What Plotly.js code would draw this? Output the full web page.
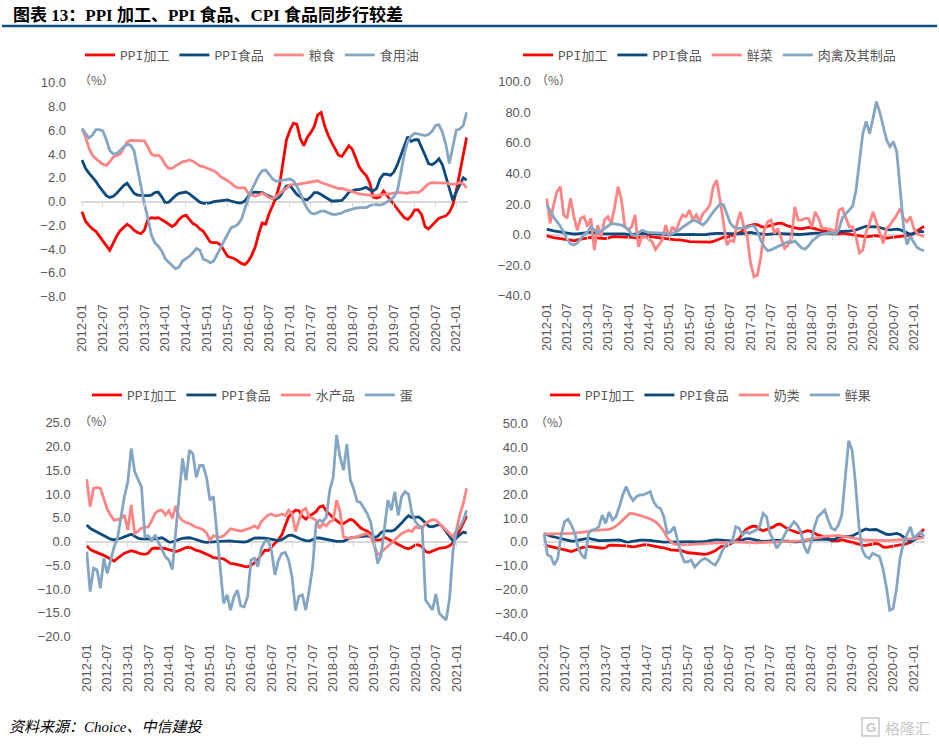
<!DOCTYPE html>
<html><head><meta charset="utf-8">
<script src="https://cdn.plot.ly/plotly-3.0.1.min.js"></script>
<style>html,body{margin:0;padding:0;background:#fff}#chart{width:939px;height:744px}</style>
</head><body><div id="chart"></div>
<script>
// ---- categories ----
const months = [];
for (let y = 2012; y <= 2021; y++) for (let m = 1; m <= 12; m++) { if (y === 2021 && m > 4) break; months.push(y + '-' + String(m).padStart(2, '0')); }
const tickLabels = ['2012-01','2012-07','2013-01','2013-07','2014-01','2014-07','2015-01','2015-07','2016-01','2016-07','2017-01','2017-07','2018-01','2018-07','2019-01','2019-07','2020-01','2020-07','2021-01'];

// ---- series (YoY, %) ----
const ppiProc = [
 -0.85,-1.65,-2.0,-2.3,-2.5,-2.9,-3.3,-3.7,-4.1,-3.5,-2.9,-2.45,
 -2.2,-1.9,-2.1,-2.4,-2.6,-2.7,-2.4,-1.5,-1.35,-1.4,-1.35,-1.5,
 -1.7,-1.9,-2.1,-1.9,-1.5,-1.25,-1.15,-1.5,-1.85,-2.0,-2.3,-2.5,
 -2.95,-3.4,-3.45,-3.45,-3.65,-4.1,-4.6,-4.7,-4.8,-5.0,-5.2,-5.3,
 -5.0,-4.5,-3.8,-2.7,-1.8,-1.9,-1.0,-0.35,0.4,1.4,3.4,5.2,
 6.0,6.6,6.5,5.3,4.7,5.4,5.8,6.3,7.3,7.5,6.4,5.6,
 5.0,4.4,3.9,3.8,4.2,4.7,4.4,3.6,2.9,2.5,2.2,1.6,
 0.4,0.3,0.4,0.9,0.5,0.1,-0.3,-0.6,-1.0,-1.35,-1.5,-1.2,
 -0.7,-0.7,-1.1,-2.1,-2.3,-2.0,-1.7,-1.4,-1.3,-1.2,-0.9,-0.3,
 0.9,2.4,4.0,5.4];
const ppiFood = [
 3.5,2.8,2.4,2.05,1.7,1.25,0.85,0.5,0.35,0.45,0.7,1.0,
 1.35,1.55,1.15,0.7,0.55,0.5,0.5,0.5,0.55,0.75,0.8,0.4,
 -0.1,-0.05,0.25,0.5,0.7,0.75,0.8,0.65,0.4,0.15,-0.05,-0.15,
 -0.15,-0.1,0.0,0.05,0.1,0.15,0.15,0.05,-0.05,-0.1,-0.1,0.05,
 0.45,0.75,0.8,0.8,0.75,0.6,0.45,0.3,0.2,0.4,0.85,1.3,
 1.35,1.0,0.6,0.4,0.2,0.15,0.4,0.75,0.75,0.6,0.4,0.2,
 0.05,0.05,0.05,0.1,0.4,0.8,0.9,1.0,1.0,1.1,1.2,1.0,
 0.9,1.1,1.9,2.3,2.3,2.2,2.5,3.1,3.9,4.75,5.45,5.05,
 5.2,5.2,4.6,3.9,3.2,3.1,3.3,3.6,3.1,2.1,0.9,0.1,
 0.8,1.4,2.0,1.8];
const grain = [
 6.15,5.45,4.5,3.9,3.6,3.35,3.15,3.05,3.35,3.75,3.85,4.0,
 4.5,5.0,5.15,5.15,5.15,5.15,5.1,4.6,4.0,3.85,3.9,3.65,
 3.1,2.8,2.8,3.0,3.2,3.35,3.4,3.5,3.4,3.2,3.0,2.95,
 2.8,2.7,2.6,2.4,2.1,1.95,1.75,1.55,1.3,1.15,1.15,1.15,
 0.7,0.55,0.45,0.55,0.7,0.55,0.35,0.25,0.4,0.7,0.9,1.1,
 1.4,1.4,1.45,1.5,1.55,1.6,1.7,1.7,1.75,1.6,1.5,1.4,
 1.25,1.15,1.1,1.1,1.0,0.9,0.8,0.7,0.65,0.6,0.55,0.55,
 0.5,0.5,0.55,0.55,0.6,0.65,0.7,0.75,0.75,0.7,0.7,0.8,
 0.75,0.75,0.95,1.25,1.5,1.6,1.6,1.6,1.55,1.55,1.5,1.45,
 1.5,1.6,1.5,1.15];
const oil = [
 6.15,5.7,5.35,5.6,6.05,6.05,5.95,5.2,4.3,4.0,4.05,4.3,
 4.6,4.8,4.75,4.3,2.7,1.3,-0.2,-1.4,-2.8,-3.45,-3.75,-4.15,
 -4.8,-5.1,-5.4,-5.65,-5.5,-5.0,-4.8,-4.6,-4.3,-3.95,-4.1,-4.85,
 -4.95,-5.15,-5.0,-4.5,-3.9,-3.3,-2.7,-2.2,-2.1,-1.9,-1.5,-0.5,
 0.3,1.0,1.6,2.2,2.6,2.65,2.3,1.9,1.7,1.75,1.8,1.9,
 1.9,1.75,1.3,0.7,-0.05,-0.6,-0.95,-1.05,-0.95,-0.8,-0.8,-0.95,
 -1.05,-1.1,-1.05,-0.95,-0.8,-0.7,-0.6,-0.55,-0.5,-0.5,-0.5,-0.35,
 -0.25,-0.25,-0.3,-0.2,-0.05,0.15,0.4,0.9,2.4,4.0,5.1,5.5,
 5.75,5.7,5.65,5.55,5.65,5.9,6.4,6.45,5.85,4.8,3.2,4.5,
 6.0,6.1,6.4,7.5];
const veg = [
 23.7,7.3,19.3,28,31.3,12.8,10.6,23.7,11.7,2.9,10.6,11.7,
 5.1,10.6,-10.1,6.2,-1.4,9.5,11.7,7.3,18.2,31.3,22.6,5.1,
 3.0,5.0,12.8,-8.0,-1.4,-1.4,-3.0,-4.7,-9.7,-6.9,-3.6,6.2,
 -1.4,5.1,1.8,8.4,12.8,11.7,16.0,9.5,12.8,8.4,13.9,16.0,
 19.3,31.3,35.6,22.6,7.3,-6.9,-3.6,-4.7,7.3,14.9,5.1,-1.4,
 -18.9,-27.6,-26.5,-14.5,2.9,8.4,9.5,0.8,4.0,-2.0,-9.1,-6.9,
 -2.5,18.2,9.5,9.5,10.6,10.6,4.7,14.9,10.6,4.0,4.0,3.5,
 3.0,1.9,16.0,17.1,10.6,5.1,5.1,-1.4,-11.9,-10.1,1.9,7.3,
 14.9,8.4,1.9,-5.8,4.0,6.2,9.5,12.8,17.1,10.6,8.4,11.7,
 4.0,0.8,-0.5,-1.4];
const meat = [
 19.5,15.0,11.5,8.5,5.5,1.5,-3.0,-6.0,-6.8,-5.5,-3.0,0.0,
 1.5,5.0,3.0,1.3,2.3,4.0,5.6,7.2,7.0,6.6,6.2,5.0,
 3.5,0.0,-0.8,1.0,2.8,2.0,1.3,1.2,1.2,1.2,1.0,0.7,
 0.0,0.5,1.7,3.0,4.8,6.5,8.0,9.3,8.8,7.5,6.2,8.5,
 11.8,14.8,17.5,20.0,19.5,14.0,7.5,5.0,4.0,4.0,4.2,4.7,
 5.5,5.8,1.9,-3.8,-8.0,-10.5,-10.0,-9.0,-8.0,-6.8,-5.5,-4.7,
 -5.2,-4.2,-6.5,-8.8,-9.5,-7.5,-4.5,-2.5,-0.8,0.3,1.0,1.2,
 1.0,0.0,3.5,11.0,13.5,16.0,18.5,29.0,48.5,66.0,74.0,66.0,
 76.0,87.0,80.0,70.0,62.0,57.5,60.8,54.0,30.0,5.0,-6.5,-1.0,
 -5.0,-8.5,-9.8,-10.6];
const aquatic = [
 13.1,7.3,11.2,11.4,11.2,8.8,6.8,5.5,4.5,4.6,4.9,5.6,
 2.4,7.7,1.7,2.2,2.8,3.0,3.1,4.4,6.0,6.5,6.6,5.6,
 6.5,4.9,7.5,5.2,4.4,4.0,3.8,3.4,3.0,2.8,2.5,1.8,
 0.3,1.2,1.0,0.9,1.2,2.0,2.7,2.5,2.3,2.2,2.4,2.6,
 2.9,3.3,2.8,4.2,5.0,5.6,5.8,5.4,5.5,5.8,5.5,6.6,
 5.9,2.1,4.5,6.5,7.0,5.2,4.9,4.5,2.8,3.8,3.3,4.2,
 4.5,8.7,6.3,1.0,0.8,0.7,0.9,1.0,1.3,1.5,1.7,1.0,
 -1.0,-2.8,-2.3,-1.6,-1.1,-0.4,0.3,1.0,1.7,2.0,2.4,2.1,
 3.1,2.9,2.8,3.8,4.3,4.6,4.5,3.8,3.1,2.4,1.7,1.0,
 2.4,5.6,8.0,11.2];
const egg = [
 -2.1,-10.5,-5.6,-5.9,-9.8,-3.5,-6.7,-3.9,-1.1,0.7,5.5,9.5,
 12.5,19.6,14.7,12.9,11.5,1.0,1.2,0.3,1.4,-0.2,-1.8,-3.2,
 -3.9,-5.9,2.0,10.0,17.5,12.9,19.2,18.5,13.5,16.0,16.0,13.5,
 8.7,9.5,2.5,-5.3,-13.0,-11.2,-14.4,-11.6,-10.2,-13.5,-13.7,-11.6,
 -3.9,-3.5,-5.3,-1.4,0.0,0.3,-2.0,-7.0,-3.9,-2.5,-2.3,-3.9,
 -7.5,-14.5,-11.5,-11.2,-14.4,-10.2,-5.3,3.8,4.5,4.2,5.2,10.8,
 13.5,22.4,17.8,15.0,20.5,13.0,11.0,8.5,8.2,7.0,5.8,4.0,
 0.0,-4.6,-2.8,2.4,8.7,6.6,10.5,5.5,9.5,10.5,10.0,6.0,
 4.2,3.3,3.0,-12.3,-13.3,-14.4,-11.0,-15.1,-15.8,-16.5,-12.0,-2.0,
 2.4,3.1,4.5,6.6];
const milk = [
 3.3,3.3,3.3,3.3,3.4,3.4,3.5,3.6,3.6,3.7,3.8,3.9,
 4.1,4.4,4.7,4.8,5.0,5.1,5.2,5.3,5.8,6.6,7.8,9.2,
 10.6,12.0,11.9,11.7,11.2,10.7,10.3,9.7,8.9,8.0,6.3,4.5,
 1.8,0.1,-1.0,-1.2,-1.3,-1.3,-1.2,-1.1,-1.0,-0.9,-0.8,-0.7,
 -0.6,-0.5,-0.4,-0.3,-0.2,-0.1,0.0,0.1,0.0,-0.1,-0.2,-0.3,
 -0.4,-0.5,-0.4,-0.3,-0.2,-0.1,0.0,0.1,0.1,0.1,0.1,0.1,
 0.1,0.1,0.2,0.4,0.7,0.9,1.2,1.5,1.8,2.0,2.3,2.5,
 2.5,2.6,2.6,2.5,2.2,1.9,1.6,1.3,1.1,0.9,0.8,0.7,
 0.6,0.5,0.5,0.5,0.5,0.6,0.7,0.8,0.9,1.0,1.0,1.1,
 1.2,1.4,1.6,1.9];
const fruit = [
 3.6,-5.5,-6.2,-9.8,-7.0,2.9,8.5,9.5,7.1,3.6,-2.7,-5.5,
 -7.0,3.6,5.0,5.3,6.4,11.3,7.8,12.6,9.2,10.6,14.8,19.8,
 23.3,19.8,17.4,19.1,19.8,19.8,20.5,21.2,17.0,14.8,14.1,10.6,
 3.6,4.3,6.4,0.8,-4.8,-8.4,-8.4,-7.7,-10.6,-9.1,-7.7,-7.0,
 -7.7,-9.0,-9.8,-7.5,-4.0,-1.5,-0.5,0.1,6.4,5.7,2.9,4.3,
 3.6,4.3,5.0,6.4,12.0,10.6,3.6,0.8,-2.7,-0.6,2.2,5.0,
 6.4,8.5,7.1,4.3,-2.0,-4.8,-0.6,6.4,10.6,12.0,13.4,9.2,
 5.7,5.0,7.1,11.3,26.1,42.6,38.7,24.7,6.4,-3.5,-6.2,-7.0,
 -4.8,-5.5,-6.2,-11.2,-18.9,-28.8,-28.1,-19.6,-7.0,-0.6,2.9,6.4,
 1.5,2.9,4.3,2.2];

// ---- layout helpers (pixel -> paper) ----
const W = 939, H = 744;
const fx = p => p / W, fy = p => 1 - p / H;
const C = {red:'#FF0000', blue:'#0C4A7C', pink:'#FF8585', grey:'#84A6C2', tick:'#595959', zero:'#D9D9D9'};
const tickFont = {family:'Liberation Sans, Arial, sans-serif', size:13, color:C.tick};
const legFont = {family:'Liberation Mono, Noto Sans CJK SC, monospace', size:13, color:C.tick};

const panels = [
  {s3:grain, n3:'粮食', s4:oil, n4:'食用油', yr:[-8,10], dt:2, px:[81,467.7], py:[82.7,296.7], leg:[80,55], pct:[96,79]},
  {s3:veg, n3:'鲜菜', s4:meat, n4:'肉禽及其制品', yr:[-40,100], dt:20, px:[545.7,925], py:[81.7,295.7], leg:[518,55], pct:[553,79]},
  {s3:aquatic, n3:'水产品', s4:egg, n4:'蛋', yr:[-20,25], dt:5, px:[85.7,467.7], py:[422.7,636.7], leg:[87,395], pct:[96,420]},
  {s3:milk, n3:'奶类', s4:fruit, n4:'鲜果', yr:[-40,50], dt:10, px:[543,925], py:[423.3,636.7], leg:[545,395], pct:[552,421]}
];

const xr = [-0.3, months.length - 0.7];
const tickIdx = tickLabels.map(t => months.indexOf(t));
const data = [];
const layout = {
  width: W, height: H, margin: {l:0, r:0, t:0, b:0},
  paper_bgcolor:'#fff', plot_bgcolor:'#fff', showlegend:true,
  annotations: [], shapes: []
};

panels.forEach((p, i) => {
  const k = i + 1, sfx = k === 1 ? '' : String(k);
  const xa = 'x' + sfx, ya = 'y' + sfx, lg = 'legend' + sfx;
  const series = [[ppiProc,'PPI加工',C.red],[ppiFood,'PPI食品',C.blue],[p.s3,p.n3,C.pink],[p.s4,p.n4,C.grey]];
  series.forEach(([y, name, col]) => data.push({
    type:'scatter', mode:'lines', x: months, y: y, name: name, xaxis: xa, yaxis: ya, legend: lg,
    line:{color: col, width: 2.8}, hoverinfo:'skip'
  }));
  const xd = [fx(p.px[0]), fx(p.px[1])], yd = [fy(p.py[1]), fy(p.py[0])];
  const ticks = [];
  for (let v = p.yr[0]; v <= p.yr[1] + 1e-9; v += p.dt) ticks.push(v);
  layout['xaxis' + sfx] = {
    domain: xd, anchor: ya, type:'category', range: xr, tickmode:'array', tickvals: tickLabels, ticktext: tickLabels,
    tickangle: -90, tickfont: tickFont, showgrid:false, zeroline:false, showline:false, ticks:'', ticklabelstandoff: 4, fixedrange:true
  };
  layout['yaxis' + sfx] = {
    domain: yd, anchor: xa, range: p.yr, tickmode:'array', tickvals: ticks, tickformat:'.1f', tickfont: tickFont,
    showgrid:false, showline:false, ticks:'', zeroline:true, zerolinecolor:C.zero, zerolinewidth:2, ticklabelstandoff: 14, fixedrange:true
  };
  // tick marks sitting on the zero line
  const zpos = yd[0] + (0 - p.yr[0]) / (p.yr[1] - p.yr[0]) * (yd[1] - yd[0]);
  const ox = 'xaxis' + (k + 4);
  layout[ox] = {
    overlaying: xa, anchor:'free', position: zpos, type:'linear', range: xr, tickmode:'array', tickvals: tickIdx,
    showticklabels:false, ticks:'outside', ticklen:4, tickwidth:1, tickcolor:C.zero, showgrid:false, zeroline:false, showline:false, fixedrange:true
  };
  data.push({type:'scatter', mode:'lines', x: months.map((_, j) => j), y: ppiProc, xaxis:'x' + (k + 4), yaxis: ya,
    line:{width:0, color:'rgba(0,0,0,0)'}, showlegend:false, hoverinfo:'skip'});
  layout[lg] = {
    orientation:'h', x: fx(p.leg[0]), y: fy(p.leg[1]), xanchor:'left', yanchor:'middle',
    bgcolor:'rgba(0,0,0,0)', font: legFont, itemwidth:30, tracegroupgap:0, itemclick:false, itemdoubleclick:false
  };
  layout.annotations.push({text:'（%）', x: fx(p.pct[0]), y: fy(p.pct[1]), xref:'paper', yref:'paper',
    showarrow:false, xanchor:'center', yanchor:'middle', font:{family:'Noto Sans CJK SC, sans-serif', size:12, color:C.tick}});
});

layout.annotations.push(
  {text:'<b>图表 13：PPI 加工、PPI 食品、CPI 食品同步行较差</b>', x: fx(11), y: fy(15), xref:'paper', yref:'paper',
   showarrow:false, xanchor:'left', yanchor:'middle', font:{family:'Liberation Serif, Noto Sans CJK SC, serif', size:17, color:'#000'}},
  {text:'<i>资料来源：Choice、中信建投</i>', x: fx(7), y: fy(727), xref:'paper', yref:'paper',
   showarrow:false, xanchor:'left', yanchor:'middle', font:{family:'Liberation Serif, Noto Sans CJK SC, serif', size:15, color:'#000'}},
  {text:'格隆汇', x: fx(932), y: fy(727), xref:'paper', yref:'paper',
   showarrow:false, xanchor:'right', yanchor:'middle', font:{family:'Noto Sans CJK SC, sans-serif', size:15, color:'#C8C8C8'}},
  {text:'<b>G</b>', x: fx(870.5), y: fy(727), xref:'paper', yref:'paper',
   showarrow:false, xanchor:'center', yanchor:'middle', font:{family:'Liberation Sans, sans-serif', size:13, color:'#C8C8C8'}}
);
layout.shapes.push(
  {type:'line', xref:'paper', yref:'paper', x0: fx(2), x1: fx(937), y0: fy(26), y1: fy(26), line:{color:'#0D4D85', width:2.5}},
  {type:'rect', xref:'paper', yref:'paper', x0: fx(862), x1: fx(879), y0: fy(736), y1: fy(718), line:{color:'#C8C8C8', width:1.5}}
);

Plotly.newPlot('chart', data, layout, {displayModeBar:false, staticPlot:true});
</script></body></html>
